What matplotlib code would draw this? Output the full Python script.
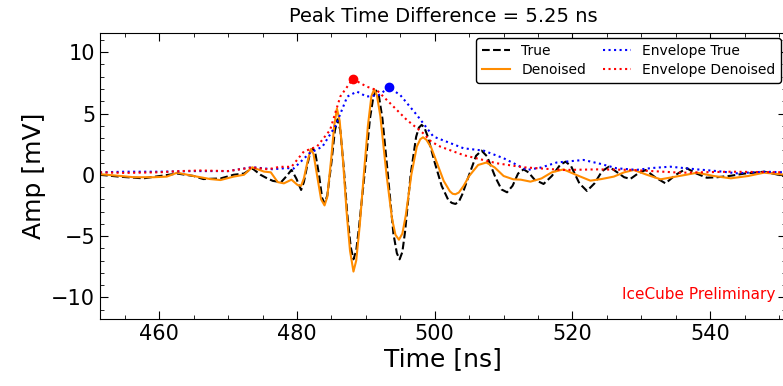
import matplotlib
matplotlib.use("Agg")
import matplotlib.pyplot as plt
from matplotlib.ticker import MultipleLocator

# waveform samples (time in ns, amplitude in mV)
t_true = [451.4, 454.3, 457.7, 460.1, 462.6, 465.0, 466.4, 468.9, 470.8, 472.3,
          473.5, 474.7, 475.7, 476.5, 477.7, 478.5, 479.2, 479.9, 480.6, 481.0,
          481.5, 481.95, 482.3, 482.65, 483.2, 483.65, 484.0, 484.4, 485.0, 485.5,
          485.9, 486.3, 486.8, 487.3, 487.8, 488.2, 488.6, 489.0, 489.8, 490.6,
          491.1, 491.5, 491.9, 492.4, 493.2, 494.0, 494.5, 494.9, 495.3, 495.7,
          496.5, 497.3, 497.7, 498.1, 498.5, 499.0, 500.0, 501.0, 502.0, 502.5,
          503.0, 503.5, 504.0, 505.0, 506.0, 506.8, 507.6, 508.8, 509.7, 510.5,
          511.3, 512.1, 512.9, 513.6, 514.5, 515.8, 517.0, 518.2, 519.0, 519.8,
          521.0, 522.1, 523.2, 524.3, 525.3, 526.5, 527.5, 528.4, 529.5, 530.6,
          532.0, 533.5, 535.0, 536.6, 538.0, 539.5, 541.0, 543.0, 545.0, 547.8,
          549.5, 551.0]
a_true = [0.0, -0.16, -0.29, -0.1, 0.1, -0.1, -0.35, -0.3, 0.0, 0.1,
          0.53, 0.0, -0.3, -0.5, -0.6, -0.1, 0.4, -0.3, -1.24, -0.6,
          0.8, 1.9, 2.15, 1.8, 0.0, -1.9, -2.33, -1.7, 1.0, 3.6,
          4.53, 3.6, 0.5, -3.2, -5.9, -6.9, -6.2, -4.3, 0.0, 4.6,
          6.4, 6.87, 6.4, 4.6, 0.0, -4.8, -6.4, -6.9, -6.3, -4.6,
          0.0, 3.1, 3.85, 4.07, 3.85, 3.1, 1.0, -0.9, -2.1, -2.3,
          -2.38, -2.2, -1.6, 0.0, 1.55, 1.97, 1.5, -0.2, -1.2, -1.43,
          -0.9, 0.1, 0.44, 0.2, -0.4, -0.75, -0.1, 0.8, 1.07, 0.7,
          -0.7, -1.32, -0.7, 0.3, 0.66, 0.2, -0.2, -0.34, 0.1, 0.39,
          -0.2, -0.7, 0.0, 0.53, 0.1, -0.24, -0.2, -0.08, 0.1, 0.25,
          0.05, -0.15]

t_den = [451.4, 453.8, 456.3, 459.2, 461.1, 462.6, 465.0, 467.4, 468.9, 470.8,
         472.3, 473.5, 475.2, 476.2, 477.2, 478.1, 479.2, 480.1, 480.6, 481.0,
         481.5, 482.0, 482.4, 482.9, 483.5, 484.0, 484.4, 485.0, 485.4, 485.8,
         486.2, 486.7, 487.2, 487.7, 488.2, 488.6, 489.1, 489.7, 490.3, 490.8,
         491.2, 491.6, 492.1, 493.0, 493.8, 494.3, 494.8, 495.3, 495.8, 496.6,
         497.4, 497.9, 498.3, 498.8, 499.5, 500.3, 501.3, 502.2, 502.6, 503.0,
         503.5, 504.2, 505.0, 506.3, 507.5, 508.7, 510.0, 511.4, 512.5, 513.9,
         515.5, 517.0, 518.7, 520.5, 522.6, 524.2, 526.0, 527.5, 528.9, 530.8,
         532.8, 534.5, 536.5, 538.1, 540.5, 543.0, 545.5, 547.8, 551.0]
a_den = [0.05, -0.07, -0.2, -0.2, -0.15, 0.17, -0.1, -0.35, -0.43, -0.15,
         0.0, 0.61, 0.26, 0.2, -0.6, -0.7, -0.4, -0.84, -0.9, -0.3,
         1.0, 2.1, 1.7, 0.0, -2.0, -2.5, -1.8, 1.5, 4.0, 5.4,
         4.4, 1.0, -3.0, -6.2, -7.9, -7.0, -4.2, 0.0, 4.0, 6.4,
         6.98, 6.5, 4.8, 0.0, -3.6, -4.9, -5.3, -4.8, -3.3, 0.0,
         2.3, 2.9, 3.06, 2.85, 2.2, 1.0, -0.5, -1.35, -1.55, -1.59,
         -1.45, -0.9, -0.1, 0.8, 1.0, 0.6, -0.1, -0.37, -0.4, -0.56,
         -0.3, 0.2, 0.44, 0.0, -0.48, -0.35, -0.15, 0.2, 0.39, 0.0,
         -0.37, -0.2, 0.0, 0.17, -0.1, -0.29, -0.1, 0.17, 0.0]

t_env_true = [451.4, 455.0, 460.0, 465.0, 470.0, 473.5, 476.5, 478.5, 479.5, 481.8,
              483.7, 485.6, 487.3, 488.7, 490.1, 491.9, 493.35, 495.0, 497.4, 499.8,
              504.2, 507.1, 510.0, 513.4, 515.5, 517.7, 521.6, 524.0, 526.4, 529.3,
              531.5, 534.2, 538.1, 541.0, 543.9, 547.8, 551.0]
a_env_true = [0.2, 0.25, 0.25, 0.3, 0.3, 0.62, 0.45, 0.55, 0.5, 1.75,
              2.3, 4.0, 6.38, 6.79, 6.38, 6.5, 7.14, 6.5, 4.88, 3.12,
              2.16, 1.97, 1.35, 0.39, 0.6, 1.0, 1.21, 0.9, 0.53, 0.4,
              0.55, 0.66, 0.44, 0.3, 0.12, 0.25, 0.2]

t_env_den = [451.4, 455.0, 460.0, 463.0, 466.0, 470.0, 473.5, 475.8, 477.5, 479.2,
             481.0, 482.9, 484.8, 486.3, 488.1, 490.1, 491.6, 493.5, 495.9, 498.3,
             499.5, 500.8, 504.2, 509.0, 512.9, 518.7, 523.6, 528.4, 535.7, 543.0,
             551.0]
a_env_den = [0.2, 0.15, 0.2, 0.3, 0.35, 0.3, 0.6, 0.45, 0.65, 0.65,
             1.9, 2.3, 3.65, 6.4, 7.82, 7.2, 6.9, 5.85, 4.5, 3.4,
             2.7, 2.3, 1.6, 0.94, 0.61, 0.39, 0.44, 0.4, 0.17, 0.25,
             0.2]

peak_t = [493.35, 488.1]   # envelope true / envelope denoised peaks
peak_a = [7.14, 7.82]

fig = plt.figure(figsize=(7.83, 3.86), dpi=100)
ax = fig.add_axes([100/783, 1 - 319/386, 686/783, 286/386])

ax.plot(t_true, a_true, color="black", ls="--", lw=1.5, label="True")
ax.plot(t_den, a_den, color="darkorange", ls="-", lw=1.5, label="Denoised")
ax.plot(t_env_true, a_env_true, color="blue", ls=":", lw=1.5, label="Envelope True")
ax.plot(t_env_den, a_env_den, color="red", ls=":", lw=1.5, label="Envelope Denoised")
ax.plot(peak_t[0], peak_a[0], "o", color="blue", ms=6)
ax.plot(peak_t[1], peak_a[1], "o", color="red", ms=6)

ax.set_xlim(451.4, 551.0)
ax.set_ylim(-11.77, 11.57)
ax.xaxis.set_major_locator(MultipleLocator(20))
ax.xaxis.set_minor_locator(MultipleLocator(5))
ax.yaxis.set_major_locator(MultipleLocator(5))
ax.yaxis.set_minor_locator(MultipleLocator(1))
ax.tick_params(which="both", direction="in", top=True, right=True, labelsize=15)
ax.tick_params(which="major", length=6)
ax.tick_params(which="minor", length=3)

ax.set_xlabel("Time [ns]", fontsize=18, labelpad=2)
ax.set_ylabel("Amp [mV]", fontsize=18, labelpad=4)
ax.set_title("Peak Time Difference = 5.25 ns", fontsize=14, pad=8)

leg = ax.legend(loc="upper right", ncol=2, fontsize=10, frameon=True,
                edgecolor="black", framealpha=1, borderaxespad=0.35,
                handlelength=2.0, columnspacing=1.2, labelspacing=0.35,
                borderpad=0.45)
leg.get_frame().set_linewidth(1.0)

ax.text(0.985, 0.085, "IceCube Preliminary", color="red", fontsize=11,
        ha="right", va="center", transform=ax.transAxes)

fig.savefig("out.png", dpi=100)
